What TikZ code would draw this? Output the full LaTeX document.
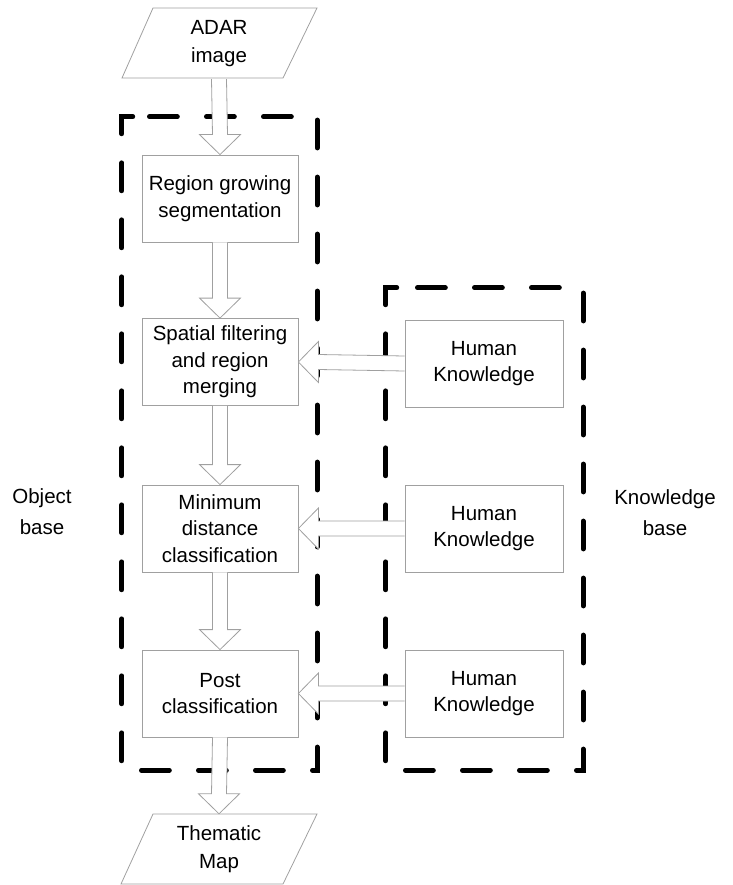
\documentclass[tikz,border=0pt]{standalone}
\usepackage{fontspec}
\setmainfont{Liberation Sans}
\usetikzlibrary{calc}
\definecolor{edgegray}{HTML}{A0A0A0}
\tikzset{
  txt/.style={font=\fontsize{20.5}{26.5}\selectfont, align=center},
  proc/.style={txt, draw=edgegray, line width=0.8pt, fill=white, inner sep=0pt,
    minimum width=156pt, minimum height=87pt},
  know/.style={proc, minimum width=158pt},
  io/.style={txt, font=\fontsize{20.5}{28}\selectfont, inner sep=0pt, minimum width=130pt, minimum height=70pt},
  iobox/.style={draw=edgegray, line width=0.8pt},
  groupbox/.style={inner sep=0pt},
  groupline/.style={draw=black, line width=4.8pt, dash pattern=on 28pt off 29pt,
    line cap=round, line join=miter},
  barrow/.style={draw=edgegray, line width=0.8pt, fill=white, line join=miter},
  sidelabel/.style={txt, font=\fontsize{20.5}{31}\selectfont}
}
\newcommand\vblock[2]{%
  \draw[barrow] ($(#1.south)+(-7.5,0)$) -- ($(#2.north)+(-7.5,-20)$) -- ($(#2.north)+(-20.5,-20)$)
    -- (#2.north) -- ($(#2.north)+(20.5,-20)$) -- ($(#2.north)+(7.5,-20)$) -- ($(#1.south)+(7.5,0)$);}
\newcommand\hblock[2]{%
  \draw[barrow] ($(#1.west)+(0,-7.5)$) -- ($(#2.east)+(20,-7.5)$) -- ($(#2.east)+(20,-20.5)$)
    -- (#2.east) -- ($(#2.east)+(20,20.5)$) -- ($(#2.east)+(20,7.5)$) -- ($(#1.west)+(0,7.5)$);}
\newcommand\framegroup[1]{%
  \draw[groupline] ($(#1.north west)+(11,0)$) -- (#1.north west) -- (#1.south west)
    -- (#1.south east) -- (#1.north east) -- cycle;}
\begin{document}
\begin{tikzpicture}[x=1pt, y=-1pt]
  \useasboundingbox (0,0) rectangle (732,885);
  % group frames
  \node[groupbox, minimum width=195pt, minimum height=653pt] (objgrp) at (219.5,443.5) {};
  \node[groupbox, minimum width=197pt, minimum height=482pt] (kngrp) at (484.5,529) {};
  \framegroup{objgrp}
  \framegroup{kngrp}
  % input / output
  \node[io] (in) at (219,44) {ADAR\\image};
  \draw[iobox] ($(in.center)+(-97,34)$) -- ($(in.center)+(64,34)$) -- ($(in.center)+(98,-36)$) -- ($(in.center)+(-66,-36)$) -- cycle;
  \node[io] (out) at (219,849) {Thematic\\Map};
  \draw[iobox] ($(out.center)+(-98,35)$) -- ($(out.center)+(64,35)$) -- ($(out.center)+(98,-35)$) -- ($(out.center)+(-66,-35)$) -- cycle;
  % process boxes
  \node[proc] (p1) at (220,198.5) {Region growing\\segmentation};
  \node[proc] (p2) at (220,362) {Spatial filtering\\and region\\merging};
  \node[proc] (p3) at (220,528.5) {Minimum\\distance\\classification};
  \node[proc] (p4) at (220,693.5) {Post\\classification};
  % knowledge boxes
  \node[know] (k1) at (484,363.5) {Human\\Knowledge};
  \node[know] (k2) at (484,528.5) {Human\\Knowledge};
  \node[know] (k3) at (484,693.5) {Human\\Knowledge};
  % labels
  \node[sidelabel] (objlab) at (42,512) {Object\\base};
  \node[sidelabel] (knlab) at (665,513) {Knowledge\\base};
  % block arrows
  \vblock{in}{p1}
  \vblock{p1}{p2}
  \vblock{p2}{p3}
  \vblock{p3}{p4}
  \vblock{p4}{out}
  \hblock{k1}{p2}
  \hblock{k2}{p3}
  \hblock{k3}{p4}
\end{tikzpicture}
\end{document}
